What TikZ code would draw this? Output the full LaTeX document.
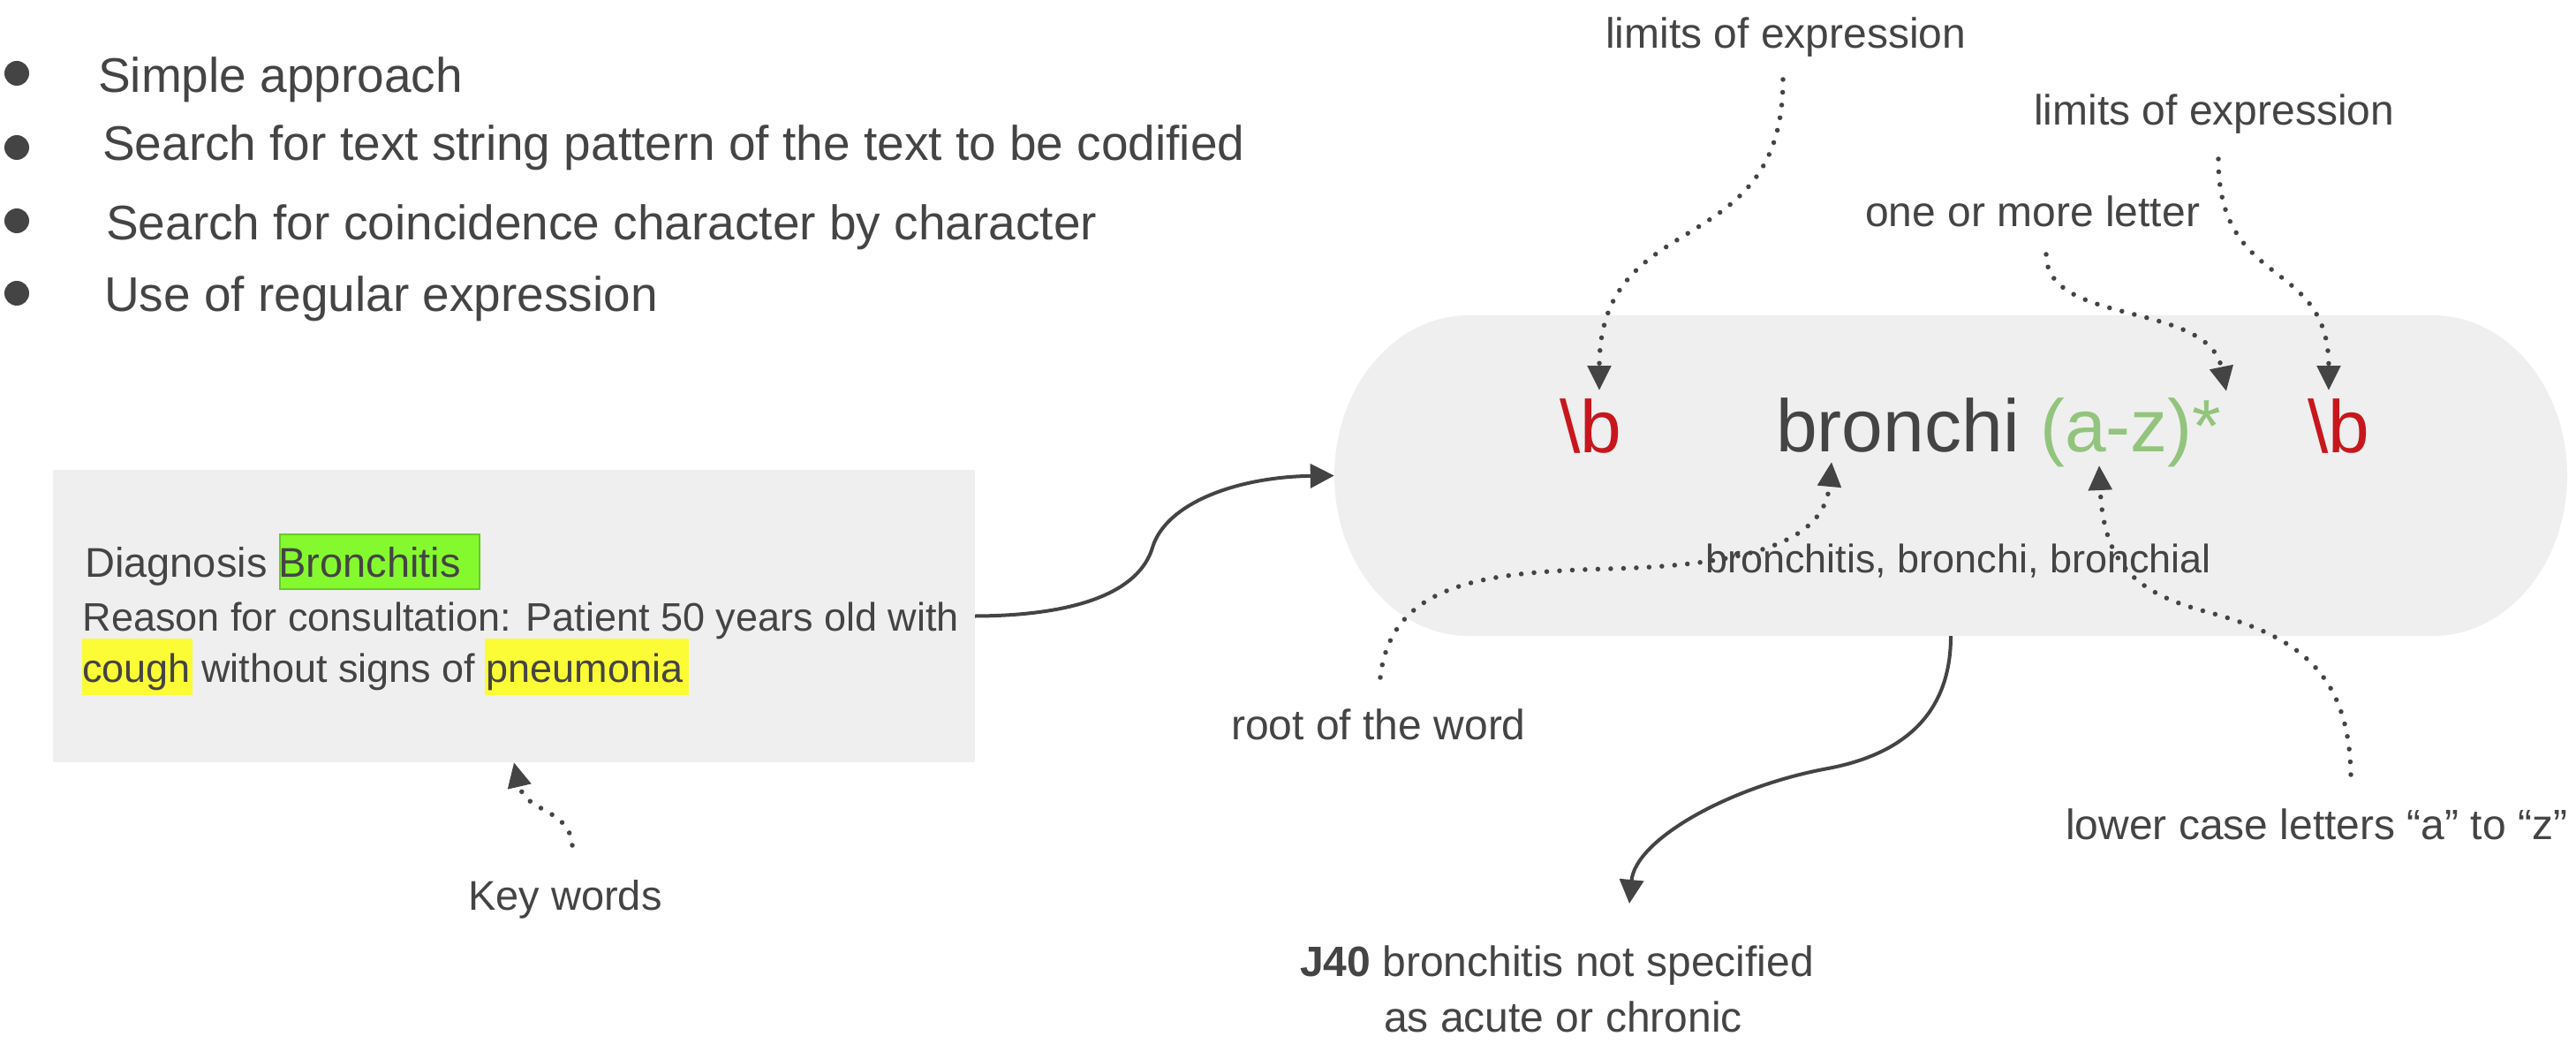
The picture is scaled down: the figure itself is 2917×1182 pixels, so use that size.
\documentclass[tikz,border=0pt]{standalone}
\usepackage{fontspec}
\setmainfont{Liberation Sans}
\usetikzlibrary{arrows.meta}
\definecolor{txt}{HTML}{444444}
\definecolor{panel}{HTML}{EFEFEF}
\definecolor{hlgreen}{HTML}{84FA2E}
\definecolor{hlgreenedge}{HTML}{66CC22}
\definecolor{hlyellow}{HTML}{FBFB36}
\definecolor{rxred}{HTML}{C8161D}
\definecolor{rxgreen}{HTML}{93C47D}
\tikzset{
  bul/.style={circle, fill=txt, inner sep=0pt, minimum size=28pt},
  bultext/.style={font=\fontsize{55}{66}\selectfont, text=txt, anchor=base west, inner sep=0pt},
  body/.style={font=\fontsize{45}{54}\selectfont, text=txt, anchor=base west, inner sep=0pt},
  lbl/.style={font=\fontsize{48}{58}\selectfont, text=txt, anchor=base west, inner sep=0pt},
  big/.style={font=\fontsize{84}{100}\selectfont, text=txt, anchor=base west, inner sep=0pt},
  solidarrow/.style={draw=txt, line width=4pt, -{Triangle[length=27pt,width=27pt]}},
  dotarrow/.style={draw=txt, line width=5.5pt, line cap=round, dash pattern=on 0pt off 14.5pt, -{Triangle[length=28pt,width=26pt]}}
}
\begin{document}
\begin{tikzpicture}[x=1pt,y=-1pt]
\useasboundingbox (0,0) rectangle (2917,1182);

% bullets
\node[bul] (d1) at (19,83) {};
\node[bul] (d2) at (19,167) {};
\node[bul] (d3) at (19,250) {};
\node[bul] (d4) at (19,332) {};
\node[bultext] (b1) at (111,105) {Simple approach};
\node[bultext] (b2) at (116,182) {Search for text string pattern of the text to be codified};
\node[bultext] (b3) at (120,272) {Search for coincidence character by character};
\node[bultext] (b4) at (118,352) {Use of regular expression};

% text box
\node[fill=panel, inner sep=0pt, minimum width=1044pt, minimum height=331pt] (tbox) at (582,697.5) {};
\fill[hlgreen, draw=hlgreenedge, line width=1.5pt] (317,605) rectangle (543,667);
\fill[hlyellow] (93,723) rectangle (218,787);
\fill[hlyellow] (549,723) rectangle (780,787);
\node[body, font=\fontsize{47}{56}\selectfont] (diag) at (96,653) {Diagnosis Bronchitis};
\node[body] (reason) at (93.5,714) {Reason for consultation: Patient 50 years old with};
\node[body] (cough) at (93,772) {cough without signs of pneumonia};
\node[lbl, font=\fontsize{47}{56}\selectfont] (kw) at (530,1030) {Key words};

% pill
\fill[panel] (1663,357) -- (2755,357)
  arc[start angle=90, end angle=-90, x radius=152pt, y radius=181.5pt]
  -- (1663,720)
  arc[start angle=-90, end angle=-270, x radius=152pt, y radius=181.5pt] -- cycle;
\node[inner sep=0pt, minimum width=1396pt, minimum height=363pt] (pill) at (2209,538.5) {};

\node[big, text=rxred] (lb) at (1766,512) {\textbackslash b};
\node[big] (bron) at (2011,511) {bronchi {\color{rxgreen}(a-z)*}};
\node[big, text=rxred] (rb) at (2613,512) {\textbackslash b};
\node[body] (forms) at (1931,648) {bronchitis, bronchi, bronchial};

% labels
\node[lbl] (lim1) at (1818,55) {limits of expression};
\node[lbl] (lim2) at (2303,142) {limits of expression};
\node[lbl] (one) at (2112,257) {one or more letter};
\node[lbl] (root) at (1394,837) {root of the word};
\node[lbl] (lower) at (2339,950) {lower case letters “a” to “z”};
\node[lbl, anchor=base] (j40a) at (1763,1105) {\textbf{J40} bronchitis not specified};
\node[lbl, anchor=base] (j40b) at (1770,1168) {as acute or chronic};

% endpoints
\coordinate (kwS) at (648,957);
\coordinate (lim1S) at (2019,90);
\coordinate (lbT) at (1811,442);
\coordinate (lim2S) at (2512,180);
\coordinate (rbT) at (2637,442);
\coordinate (oneS) at (2317,288);
\coordinate (starT) at (2521,443);
\coordinate (rootS) at (1563,767);
\coordinate (bronT) at (2074,523);
\coordinate (lowerS) at (2662,877);
\coordinate (azT) at (2377,527);
\coordinate (j40T) at (1845,1023);

% connectors
\draw[solidarrow] (tbox.east) .. controls (1220,697) and (1290,670) .. (1305,620)
  .. controls (1320,570) and (1400,540) .. (pill.west);
\draw[solidarrow] (pill.south) .. controls (2209,800) and (2165,852) .. (2070,870)
  .. controls (1960,890) and (1852,950) .. (j40T);
\draw[dotarrow] (kwS) .. controls (645,915) and (595,920) .. (tbox.south);
\draw[dotarrow] (lim1S) .. controls (2019,300) and (1811,230) .. (lbT);
\draw[dotarrow] (lim2S) .. controls (2512,330) and (2637,290) .. (rbT);
\draw[dotarrow] (oneS) .. controls (2317,370) and (2500,340) .. (starT);
\draw[dotarrow] (rootS) .. controls (1575,660) and (1680,648) .. (1820,644)
  .. controls (1990,640) and (2066,610) .. (bronT);
\draw[dotarrow] (lowerS) .. controls (2660,760) and (2600,720) .. (2500,693)
  .. controls (2420,672) and (2382,640) .. (azT);
\end{tikzpicture}
\end{document}
